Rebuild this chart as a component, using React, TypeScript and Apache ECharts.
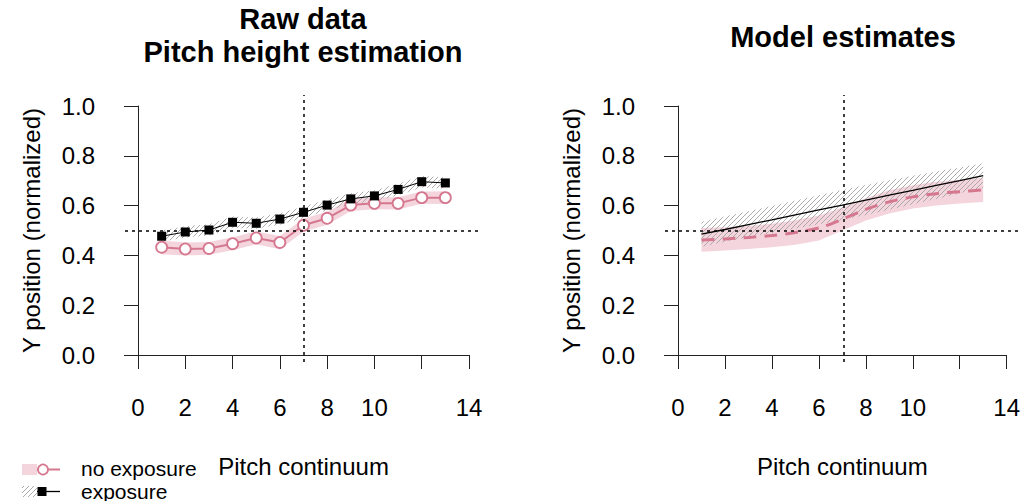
import React, { useEffect, useRef } from "react";
import * as echarts from "echarts";

// ---------- data ----------
const pitchSteps = [1, 2, 3, 4, 5, 6, 7, 8, 9, 10, 11, 12, 13];

// Raw data (left panel)
const rawNoExposureMean = [0.433, 0.426, 0.428, 0.447, 0.470, 0.452, 0.521, 0.549, 0.602, 0.609, 0.609, 0.632, 0.632];
const rawNoExposureLow = [0.405, 0.400, 0.403, 0.421, 0.445, 0.425, 0.495, 0.523, 0.578, 0.585, 0.584, 0.607, 0.606];
const rawNoExposureHigh = [0.460, 0.452, 0.454, 0.473, 0.496, 0.478, 0.547, 0.575, 0.627, 0.634, 0.634, 0.657, 0.658];
const rawExposureMean = [0.477, 0.494, 0.502, 0.533, 0.529, 0.546, 0.573, 0.602, 0.627, 0.639, 0.665, 0.696, 0.691];
const rawExposureLow = [0.455, 0.472, 0.480, 0.510, 0.507, 0.523, 0.550, 0.580, 0.604, 0.617, 0.642, 0.673, 0.668];
const rawExposureHigh = [0.500, 0.517, 0.525, 0.556, 0.552, 0.569, 0.596, 0.625, 0.650, 0.662, 0.688, 0.719, 0.714];

// Model estimates (right panel)
const modelExposure = [0.485, 0.504, 0.524, 0.543, 0.563, 0.583, 0.602, 0.622, 0.642, 0.661, 0.681, 0.700, 0.720];
const modelExposureLow = [0.435, 0.455, 0.474, 0.490, 0.508, 0.525, 0.542, 0.562, 0.583, 0.605, 0.627, 0.650, 0.672];
const modelExposureHigh = [0.535, 0.556, 0.577, 0.598, 0.620, 0.642, 0.663, 0.683, 0.702, 0.720, 0.737, 0.753, 0.770];
const modelNoExposure = [0.462, 0.466, 0.472, 0.480, 0.492, 0.510, 0.545, 0.585, 0.615, 0.635, 0.648, 0.656, 0.663];
const modelNoExposureLow = [0.415, 0.420, 0.426, 0.433, 0.443, 0.460, 0.500, 0.540, 0.568, 0.588, 0.600, 0.608, 0.614];
const modelNoExposureHigh = [0.510, 0.513, 0.518, 0.527, 0.541, 0.560, 0.592, 0.630, 0.662, 0.682, 0.696, 0.704, 0.712];

// Axes / reference values
const xTickValues = [0, 2, 4, 6, 8, 10, 12, 14];
const xHiddenLabels = [12];
const yTickValues = [0, 0.2, 0.4, 0.6, 0.8, 1.0];
const refX = 7;
const refY = 0.5;

// Texts
const titleLeft = ["Raw data", "Pitch height estimation"];
const titleRight = "Model estimates";
const xAxisTitle = "Pitch continuum";
const yAxisTitle = "Y position (normalized)";
const legendLabels = ["no exposure", "exposure"];

// ---------- styles ----------
const FONT = '"Liberation Sans", Arial, Helvetica, sans-serif';
const PINK = "#d5788f";
const PINK_BAND = "rgba(222,125,150,0.32)";
const BLACK = "#000000";
const AXIS = "#222222";

function makeHatch(): any {
  const c = document.createElement("canvas");
  const s = 5;
  c.width = s;
  c.height = s;
  const ctx = c.getContext("2d");
  if (ctx) {
    ctx.strokeStyle = "#a3a3a3";
    ctx.lineWidth = 0.9;
    ctx.beginPath();
    ctx.moveTo(-1, s + 1);
    ctx.lineTo(s + 1, -1);
    ctx.moveTo(-1, 1);
    ctx.lineTo(1, -1);
    ctx.moveTo(s - 1, s + 1);
    ctx.lineTo(s + 1, s - 1);
    ctx.stroke();
  }
  return { image: c, repeat: "repeat", imageWidth: s, imageHeight: s };
}

function bandSeries(name: string, axisIdx: number, low: number[], high: number[], fill: any, z: number) {
  return {
    type: "custom",
    name,
    xAxisIndex: axisIdx,
    yAxisIndex: axisIdx,
    silent: true,
    z,
    data: pitchSteps.map((x, i) => [x, low[i], high[i]]),
    encode: { x: 0, y: [1, 2] },
    renderItem: (params: any, api: any) => {
      if (params.dataIndex !== 0) return null;
      const pts: number[][] = [];
      for (let i = 0; i < pitchSteps.length; i++) pts.push(api.coord([pitchSteps[i], high[i]]));
      for (let i = pitchSteps.length - 1; i >= 0; i--) pts.push(api.coord([pitchSteps[i], low[i]]));
      return { type: "polygon", shape: { points: pts }, style: { fill, stroke: "none" } };
    },
  };
}

function plotXAxis(gridIndex: number) {
  return {
    type: "value",
    gridIndex,
    min: 0,
    max: 14,
    interval: 2,
    offset: 9,
    axisLine: { show: true, lineStyle: { color: AXIS, width: 1 } },
    axisTick: { show: true, inside: false, length: 14, lineStyle: { color: AXIS, width: 1 } },
    axisLabel: {
      show: true,
      margin: 31,
      fontSize: 24,
      fontFamily: FONT,
      color: "#000",
      formatter: (v: number) => (xTickValues.includes(v) && !xHiddenLabels.includes(v) ? String(v) : ""),
    },
    splitLine: { show: false },
    name: xAxisTitle,
    nameLocation: "middle",
    nameGap: 90,
    nameTextStyle: { fontSize: 24, fontFamily: FONT, color: "#000" },
  };
}

function plotYAxis(gridIndex: number) {
  return {
    type: "value",
    gridIndex,
    min: 0,
    max: 1,
    interval: 0.2,
    offset: 13,
    axisLine: { show: true, lineStyle: { color: AXIS, width: 1 } },
    axisTick: { show: true, inside: false, length: 14, lineStyle: { color: AXIS, width: 1 } },
    axisLabel: {
      show: true,
      margin: 30,
      fontSize: 24,
      fontFamily: FONT,
      color: "#000",
      formatter: (v: number) => (yTickValues.some((t) => Math.abs(t - v) < 1e-9) ? v.toFixed(1) : ""),
    },
    splitLine: { show: false },
    name: yAxisTitle,
    nameLocation: "middle",
    nameGap: 82,
    nameTextStyle: { fontSize: 24, fontFamily: FONT, color: "#000" },
  };
}

function refXAxis(gridIndex: number) {
  return { type: "value", gridIndex, min: -0.55, max: 14.55, show: false, splitLine: { show: false } };
}
function refYAxis(gridIndex: number) {
  return { type: "value", gridIndex, min: -0.028, max: 1.044, show: false, splitLine: { show: false } };
}

function refLineSeries(axisIdx: number) {
  return {
    type: "line",
    xAxisIndex: axisIdx,
    yAxisIndex: axisIdx,
    data: [[refX, refY]],
    showSymbol: false,
    symbol: "none",
    lineStyle: { opacity: 0 },
    silent: true,
    z: 3,
    markLine: {
      silent: true,
      symbol: "none",
      label: { show: false },
      lineStyle: { color: BLACK, type: [3, 4], width: 1.5 },
      data: [{ xAxis: refX }, { yAxis: refY }],
    },
  };
}

export default function App() {
  const ref = useRef<HTMLDivElement>(null);

  useEffect(() => {
    if (!ref.current) return;
    const chart = echarts.init(ref.current, undefined, { renderer: "svg" });
    const hatch = makeHatch();
    const hatchLegend = makeHatch();

    const option: any = {
      animation: false,
      backgroundColor: "#ffffff",
      grid: [
        { left: 138, top: 106, width: 331, height: 249 },
        { left: 678, top: 106, width: 330, height: 249 },
        { left: 125, top: 95, width: 357, height: 267 },
        { left: 665, top: 95, width: 357, height: 267 },
      ],
      xAxis: [plotXAxis(0), plotXAxis(1), refXAxis(2), refXAxis(3)],
      yAxis: [plotYAxis(0), plotYAxis(1), refYAxis(2), refYAxis(3)],
      series: [
        // left panel
        bandSeries("no exposure band", 0, rawNoExposureLow, rawNoExposureHigh, PINK_BAND, 1),
        bandSeries("exposure band", 0, rawExposureLow, rawExposureHigh, hatch, 2),
        refLineSeries(2),
        {
          type: "line",
          name: legendLabels[0],
          xAxisIndex: 0,
          yAxisIndex: 0,
          data: pitchSteps.map((x, i) => [x, rawNoExposureMean[i]]),
          symbol: "circle",
          symbolSize: 11,
          lineStyle: { color: PINK, width: 2 },
          itemStyle: { color: "#ffffff", borderColor: PINK, borderWidth: 1.8 },
          z: 4,
        },
        {
          type: "line",
          name: legendLabels[1],
          xAxisIndex: 0,
          yAxisIndex: 0,
          data: pitchSteps.map((x, i) => [x, rawExposureMean[i]]),
          symbol: "rect",
          symbolSize: 9,
          lineStyle: { color: BLACK, width: 1 },
          itemStyle: { color: BLACK },
          z: 5,
        },
        // right panel
        bandSeries("model no exposure band", 1, modelNoExposureLow, modelNoExposureHigh, PINK_BAND, 1),
        bandSeries("model exposure band", 1, modelExposureLow, modelExposureHigh, hatch, 2),
        refLineSeries(3),
        {
          type: "line",
          name: "model " + legendLabels[0],
          xAxisIndex: 1,
          yAxisIndex: 1,
          data: pitchSteps.map((x, i) => [x, modelNoExposure[i]]),
          symbol: "none",
          smooth: 0.3,
          lineStyle: { color: PINK, width: 3, type: [13, 8] },
          z: 4,
        },
        {
          type: "line",
          name: "model " + legendLabels[1],
          xAxisIndex: 1,
          yAxisIndex: 1,
          data: pitchSteps.map((x, i) => [x, modelExposure[i]]),
          symbol: "none",
          lineStyle: { color: BLACK, width: 1.3 },
          z: 5,
        },
      ],
      graphic: [
        {
          type: "text",
          x: 303,
          y: 19,
          style: { text: titleLeft[0], font: `bold 29px ${FONT}`, fill: "#000", align: "center", verticalAlign: "middle" },
        },
        {
          type: "text",
          x: 303,
          y: 52,
          style: { text: titleLeft[1], font: `bold 29px ${FONT}`, fill: "#000", align: "center", verticalAlign: "middle" },
        },
        {
          type: "text",
          x: 843,
          y: 37,
          style: { text: titleRight, font: `bold 29px ${FONT}`, fill: "#000", align: "center", verticalAlign: "middle" },
        },
        // legend row 1
        { type: "rect", shape: { x: 22, y: 464, width: 15, height: 11 }, style: { fill: PINK_BAND } },
        { type: "line", shape: { x1: 37, y1: 469.5, x2: 60, y2: 469.5 }, style: { stroke: PINK, lineWidth: 2 } },
        { type: "circle", shape: { cx: 43, cy: 469.5, r: 5 }, style: { fill: "#ffffff", stroke: PINK, lineWidth: 1.8 } },
        {
          type: "text",
          x: 81,
          y: 468,
          style: { text: legendLabels[0], font: `21px ${FONT}`, fill: "#000", align: "left", verticalAlign: "middle" },
        },
        // legend row 2
        { type: "rect", shape: { x: 22, y: 486, width: 15, height: 11 }, style: { fill: hatchLegend } },
        { type: "line", shape: { x1: 37, y1: 491.5, x2: 60, y2: 491.5 }, style: { stroke: BLACK, lineWidth: 1.3 } },
        { type: "rect", shape: { x: 37.5, y: 487, width: 9, height: 9 }, style: { fill: BLACK } },
        {
          type: "text",
          x: 81,
          y: 491,
          style: { text: legendLabels[1], font: `21px ${FONT}`, fill: "#000", align: "left", verticalAlign: "middle" },
        },
      ],
    };

    chart.setOption(option);
    return () => chart.dispose();
  }, []);

  return (
    <div
      ref={ref}
      style={{ position: "fixed", left: 0, top: 0, width: 1023, height: 501, background: "#fff" }}
    />
  );
}
